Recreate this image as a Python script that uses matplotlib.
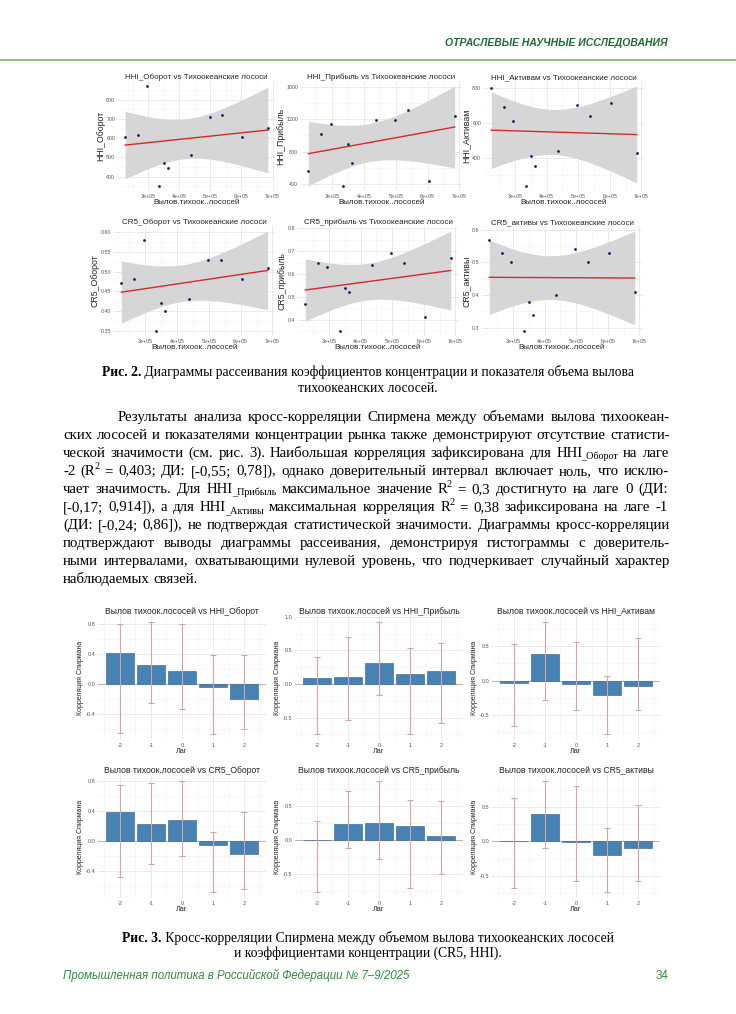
import re
import numpy as np
import matplotlib
matplotlib.use('Agg')
import matplotlib.pyplot as plt
from matplotlib.lines import Line2D
from matplotlib.ticker import FixedLocator, AutoMinorLocator, FuncFormatter

# ---------- data: scatter plots (Рис. 2) ----------
catch = np.array([2.25, 2.65, 2.95, 3.35, 3.50, 3.62, 4.37, 4.97, 5.38, 6.03, 6.85]) * 1e5
hhi_turnover = [608, 618, 870, 352, 470, 445, 512, 712, 718, 605, 652]
hhi_profit = [565, 1020, 1140, 380, 895, 665, 1190, 1190, 1310, 435, 1235]
hhi_assets = [795, 690, 610, 240, 410, 355, 440, 700, 640, 710, 430]
cr5_turnover = [0.47, 0.48, 0.58, 0.35, 0.42, 0.40, 0.43, 0.53, 0.53, 0.48, 0.51]
cr5_profit = [0.47, 0.65, 0.63, 0.35, 0.54, 0.52, 0.64, 0.69, 0.65, 0.41, 0.67]
cr5_assets = [0.57, 0.53, 0.50, 0.29, 0.38, 0.34, 0.40, 0.54, 0.50, 0.53, 0.41]
catch_ticks = [3e5, 4e5, 5e5, 6e5, 7e5]

# ---------- data: Spearman cross-correlation (Рис. 3) ----------
lags = np.array([-2, -1, 0, 1, 2])
r_hhi_turnover = [0.41, 0.25, 0.17, -0.045, -0.20]
lo_hhi_turnover = [-0.65, -0.25, -0.33, -0.67, -0.60]
hi_hhi_turnover = [0.80, 0.83, 0.80, 0.39, 0.39]
r_hhi_profit = [0.09, 0.11, 0.315, 0.15, 0.19]
lo_hhi_profit = [-0.75, -0.535, -0.17, -0.75, -0.585]
hi_hhi_profit = [0.40, 0.70, 0.93, 0.53, 0.615]
r_hhi_assets = [-0.03, 0.38, -0.05, -0.21, -0.08]
lo_hhi_assets = [-0.66, -0.28, -0.42, -0.78, -0.43]
hi_hhi_assets = [0.53, 0.855, 0.56, 0.06, 0.62]
r_cr5_turnover = [0.385, 0.22, 0.27, -0.06, -0.18]
lo_cr5_turnover = [-0.49, -0.315, -0.205, -0.69, -0.65]
hi_cr5_turnover = [0.74, 0.77, 0.80, 0.115, 0.38]
r_cr5_profit = [-0.01, 0.225, 0.245, 0.195, 0.055]
lo_cr5_profit = [-0.775, -0.12, -0.29, -0.71, -0.50]
hi_cr5_profit = [0.28, 0.72, 0.87, 0.585, 0.57]
r_cr5_assets = [0.005, 0.40, -0.01, -0.20, -0.10]
lo_cr5_assets = [-0.675, -0.09, -0.575, -0.74, -0.575]
hi_cr5_assets = [0.625, 0.88, 0.795, 0.19, 0.525]

T_CRIT = 2.262  # t(0.975, df = 9)

W, H = 736, 1014
SERIF = ['Liberation Serif', 'DejaVu Serif']
SANS = ['Liberation Sans', 'DejaVu Sans']
plt.rcParams['font.family'] = SANS

fig = plt.figure(figsize=(W / 100, H / 100), dpi=100)
fig.patch.set_facecolor('white')
renderer = fig.canvas.get_renderer()


def fx(px):
    return px / W


def fy(py):
    return 1 - py / H


def axes_px(l, t, r, b):
    return fig.add_axes([l / W, 1 - b / H, (r - l) / W, (b - t) / H])


def style_axes(ax, tick_size):
    for sp in ax.spines.values():
        sp.set_visible(False)
    ax.tick_params(which='both', length=0, labelsize=tick_size, labelcolor='#555555', pad=2)
    ax.xaxis.set_minor_locator(AutoMinorLocator(2))
    ax.yaxis.set_minor_locator(AutoMinorLocator(2))
    ax.grid(which='major', color='#e6e6e6', lw=0.6)
    ax.grid(which='minor', color='#f2f2f2', lw=0.4)
    ax.set_axisbelow(True)


# ---------- scatter panels ----------
def scatter_panel(box, yvals, name, yticks, yfmt):
    ax = axes_px(*box)
    x = catch
    y = np.asarray(yvals, float)
    slope, icpt = np.polyfit(x, y, 1)
    xl = np.linspace(x.min(), x.max(), 100)
    yl = slope * xl + icpt
    n = len(x)
    s = np.sqrt(np.sum((y - (slope * x + icpt)) ** 2) / (n - 2))
    half = T_CRIT * s * np.sqrt(1 / n + (xl - x.mean()) ** 2 / np.sum((x - x.mean()) ** 2))
    ax.fill_between(xl, yl - half, yl + half, color='#d6d6d6', lw=0, zorder=1)
    ax.plot(xl, yl, color='#d42a2a', lw=1.0, zorder=2)
    ax.scatter(x, y, s=4, color='#1b1b6b', lw=0, zorder=3)
    ax.xaxis.set_major_locator(FixedLocator(catch_ticks))
    ax.xaxis.set_major_formatter(FuncFormatter(lambda v, p: f'{v:.0e}'))
    ax.yaxis.set_major_locator(FixedLocator(yticks))
    ax.yaxis.set_major_formatter(FuncFormatter(lambda v, p: yfmt.format(v)))
    style_axes(ax, 3.8)
    ax.set_title(f'{name} vs Тихоокеанские лососи', fontsize=5.8, pad=1.5, color='#222222')
    ax.set_xlabel('Вылов.тихоок..лососей', fontsize=5.8, labelpad=0.5, color='#222222')
    ax.set_ylabel(name, fontsize=6.3, labelpad=1, color='#222222')


scatter_panel((118, 81, 275, 191), hhi_turnover, 'HHI_Оборот', [400, 500, 600, 700, 800], '{:.0f}')
scatter_panel((301, 81, 462, 191), hhi_profit, 'HHI_Прибыль', [400, 800, 1200, 1600], '{:.0f}')
scatter_panel((484, 81, 644, 191), hhi_assets, 'HHI_Активам', [400, 600, 800], '{:.0f}')
scatter_panel((114, 226, 275, 336), cr5_turnover, 'CR5_Оборот',
              [0.35, 0.40, 0.45, 0.50, 0.55, 0.60], '{:.2f}')
scatter_panel((298, 226, 458, 336), cr5_profit, 'CR5_прибыль', [0.4, 0.5, 0.6, 0.7, 0.8], '{:.1f}')
scatter_panel((482, 226, 642, 336), cr5_assets, 'CR5_активы', [0.3, 0.4, 0.5, 0.6], '{:.1f}')


# ---------- cross-correlation bar panels ----------
def bar_panel(box, r, lo, hi, name, yticks):
    ax = axes_px(*box)
    r = np.asarray(r)
    ax.axhline(0, color='#b8b8b8', lw=0.8, zorder=1)
    ax.bar(lags, r, width=0.9, color='#4682b4', edgecolor='#2f5a80', lw=0.4, zorder=2)
    ax.errorbar(lags, r, yerr=[r - np.asarray(lo), np.asarray(hi) - r], fmt='none',
                ecolor='#d4a4a4', elinewidth=0.8, capsize=2.4, capthick=0.8, zorder=3)
    ax.set_xlim(-2.7, 2.7)
    ax.margins(y=0.05)
    ax.xaxis.set_major_locator(FixedLocator(list(lags)))
    ax.xaxis.set_major_formatter(FuncFormatter(lambda v, p: f'{v:.0f}'))
    ax.yaxis.set_major_locator(FixedLocator(yticks))
    ax.yaxis.set_major_formatter(FuncFormatter(lambda v, p: f'{v:.1f}'))
    style_axes(ax, 4.0)
    ax.set_title(f'Вылов тихоок.лососей vs {name}', fontsize=6.2, pad=1.5, color='#222222')
    ax.set_xlabel('Лаг', fontsize=5.2, labelpad=0.5, color='#222222')
    ax.set_ylabel('Корреляция Спирмана', fontsize=5.0, labelpad=1, color='#222222')


bar_panel((98, 616, 266, 740), r_hhi_turnover, lo_hhi_turnover, hi_hhi_turnover,
          'HHI_Оборот', [-0.4, 0.0, 0.4, 0.8])
bar_panel((295, 616, 463, 740), r_hhi_profit, lo_hhi_profit, hi_hhi_profit,
          'HHI_Прибыль', [-0.5, 0.0, 0.5, 1.0])
bar_panel((492, 616, 660, 740), r_hhi_assets, lo_hhi_assets, hi_hhi_assets,
          'HHI_Активам', [-0.5, 0.0, 0.5])
bar_panel((98, 775, 266, 898), r_cr5_turnover, lo_cr5_turnover, hi_cr5_turnover,
          'CR5_Оборот', [-0.4, 0.0, 0.4, 0.8])
bar_panel((295, 775, 463, 898), r_cr5_profit, lo_cr5_profit, hi_cr5_profit,
          'CR5_прибыль', [-0.5, 0.0, 0.5])
bar_panel((492, 775, 660, 898), r_cr5_assets, lo_cr5_assets, hi_cr5_assets,
          'CR5_активы', [-0.5, 0.0, 0.5])


# ---------- page text helpers ----------
def make_text(s, size, kind, family, color='black', style='normal'):
    weight = 'bold' if kind == 'b' else 'normal'
    fs = size * 0.68 if kind in ('sub', 'sup') else size
    return fig.text(0, 0, s, fontsize=fs, family=family, weight=weight, style=style,
                    color=color, va='baseline', ha='left')


def width_of(t):
    return t.get_window_extent(renderer).width


def parse_word(w):
    parts = []
    for tok in re.split(r'(_\{.*?\}|\^\{.*?\})', w):
        if tok.startswith('_{'):
            parts.append((tok[2:-1], 'sub'))
        elif tok.startswith('^{'):
            parts.append((tok[2:-1], 'sup'))
        elif tok:
            parts.append((tok, 'n'))
    return parts


def build_words(line, size, family):
    words = []
    for w in line.split(' '):
        objs = [(make_text(s, size, k, family), k) for s, k in parse_word(w)]
        words.append(objs)
    return words


def natural_width(line, size, family):
    words = build_words(line, size, family)
    total = 0
    for objs in words:
        for o, k in objs:
            total += width_of(o)
            o.remove()
    sp = make_text(' ', size, 'n', family)
    total += width_of(sp) * (len(words) - 1)
    sp.remove()
    return total


def place_line(line, left, right, baseline, size, family, justify=True):
    words = build_words(line, size, family)
    widths = [sum(width_of(o) for o, k in objs) for objs in words]
    sp = make_text(' ', size, 'n', family)
    space = width_of(sp)
    sp.remove()
    if justify and len(words) > 1:
        gap = (right - left - sum(widths)) / (len(words) - 1)
    else:
        gap = space
    x = left
    pt = size * 100 / 72
    for objs in words:
        for o, k in objs:
            dy = {'sub': 0.15, 'sup': -0.38}.get(k, 0) * pt
            nudge = -0.08 * pt if k in ('sub', 'sup') else 0
            o.set_position((fx(x + nudge), fy(baseline + dy)))
            x += width_of(o) + nudge
        x += gap


def fit_size(s, target, family, weight='normal', style='normal'):
    t = fig.text(0, 0, s, fontsize=10, family=family, weight=weight, style=style)
    w = width_of(t)
    t.remove()
    return 10 * target / w


def centered_rich(parts, xc, baseline, size, family):
    objs = [fig.text(0, 0, s, fontsize=size, family=family, weight=wt, va='baseline')
            for s, wt in parts]
    ws = [width_of(o) for o in objs]
    x = xc - sum(ws) / 2
    for o, w in zip(objs, ws):
        o.set_position((fx(x), fy(baseline)))
        x += w


# ---------- header ----------
hdr = 'ОТРАСЛЕВЫЕ НАУЧНЫЕ ИССЛЕДОВАНИЯ'
hsize = fit_size(hdr, 221, SANS, 'bold', 'italic')
fig.text(fx(668), fy(46), hdr, fontsize=hsize, family=SANS, weight='bold', style='italic',
         color='#1e6b30', ha='right', va='baseline')
fig.add_artist(Line2D([0, 1], [fy(60), fy(60)], transform=fig.transFigure,
                      color='#7ab55c', lw=1.2))

# ---------- caption Рис. 2 ----------
cap1 = 'Рис. 2. Диаграммы рассеивания коэффициентов концентрации и показателя объема вылова'
csize = fit_size(cap1, 529, SERIF)
centered_rich([('Рис. 2.', 'bold'),
               (' Диаграммы рассеивания коэффициентов концентрации и показателя объема вылова',
                'normal')], 368, 376, csize, SERIF)
centered_rich([('тихоокеанских лососей.', 'normal')], 368, 392, csize, SERIF)

# ---------- body paragraph ----------
para = [
    'Результаты анализа кросс-корреляции Спирмена между объемами вылова тихоокеан-',
    'ских лососей и показателями концентрации рынка также демонстрируют отсутствие статисти-',
    'ческой значимости (см. рис. 3). Наибольшая корреляция зафиксирована для HHI_{_Оборот} на лаге',
    '-2 (R^{2} = 0,403; ДИ: [-0,55; 0,78]), однако доверительный интервал включает ноль, что исклю-',
    'чает значимость. Для HHI_{_Прибыль} максимальное значение R^{2} = 0,3 достигнуто на лаге 0 (ДИ:',
    '[-0,17; 0,914]), а для HHI_{_Активы} максимальная корреляция R^{2} = 0,38 зафиксирована на лаге -1',
    '(ДИ: [-0,24; 0,86]), не подтверждая статистической значимости. Диаграммы кросс-корреляции',
    'подтверждают выводы диаграммы рассеивания, демонстрируя гистограммы с доверитель-',
    'ными интервалами, охватывающими нулевой уровень, что подчеркивает случайный характер',
    'наблюдаемых связей.',
]
LEFT, RIGHT, INDENT = 63, 670, 55
ratios = []
for i, line in enumerate(para[:-1]):
    target = RIGHT - LEFT - (INDENT if i == 0 else 0)
    ratios.append(target / natural_width(line, 10, SERIF))
psize = 10 * min(ratios) * 0.995
for i, line in enumerate(para):
    left = LEFT + (INDENT if i == 0 else 0)
    place_line(line, left, RIGHT, 421 + i * 18.0, psize, SERIF, justify=(i < len(para) - 1))

# ---------- caption Рис. 3 ----------
centered_rich([('Рис. 3.', 'bold'),
               (' Кросс-корреляции Спирмена между объемом вылова тихоокеанских лососей', 'normal')],
              368, 942, csize, SERIF)
centered_rich([('и коэффициентами концентрации (CR5, HHI).', 'normal')], 368, 957, csize, SERIF)

# ---------- footer ----------
ftr = 'Промышленная политика в Российской Федерации № 7–9/2025'
fsize = fit_size(ftr, 347, SANS, 'normal', 'italic')
fig.text(fx(63), fy(979), ftr, fontsize=fsize, family=SANS, style='italic',
         color='#2e8b3e', va='baseline')
fig.text(fx(668), fy(979), '34', fontsize=fsize, family=SANS, color='#2e8b3e',
         ha='right', va='baseline')

fig.savefig('out.png', dpi=100, facecolor='white')
